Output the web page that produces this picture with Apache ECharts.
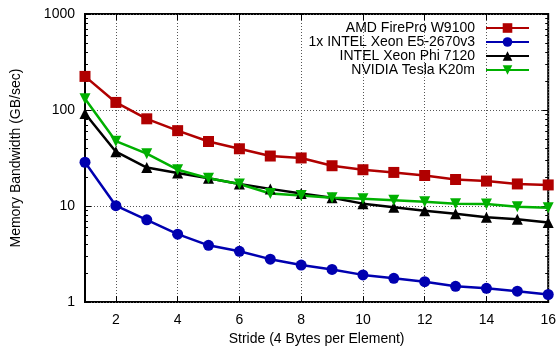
<!DOCTYPE html>
<html>
<head>
<meta charset="utf-8">
<script src="https://cdn.jsdelivr.net/npm/echarts@6/dist/echarts.min.js"></script>
<style>
  html, body { margin: 0; padding: 0; background: #fff; }
  #chart { width: 559px; height: 351px; }
</style>
</head>
<body>
<div id="chart"></div>
<script>
// stride 1..16 (4 bytes per element)
const strides = [1, 2, 3, 4, 5, 6, 7, 8, 9, 10, 11, 12, 13, 14, 15, 16];
const xTicks = [2, 4, 6, 8, 10, 12, 14, 16];
const yTicks = [1, 10, 100, 1000];

// memory bandwidth in GB/sec
const amdW9100 = [224, 120, 81, 61, 47, 39.5, 33.2, 31.7, 26.3, 23.9, 22.4, 20.8, 18.9, 18.2, 17.0, 16.6];
const xeonE5 = [28.6, 10.1, 7.2, 5.1, 3.9, 3.38, 2.8, 2.43, 2.19, 1.92, 1.77, 1.63, 1.46, 1.39, 1.3, 1.2];
const xeonPhi = [92, 36.8, 25.2, 22.1, 19.5, 17.0, 15.1, 13.5, 12.2, 10.6, 9.7, 8.95, 8.3, 7.64, 7.3, 6.75];
const teslaK20m = [131, 47.4, 35.1, 23.9, 19.5, 17.0, 13.5, 12.9, 12.2, 11.9, 11.5, 11.1, 10.6, 10.5, 9.84, 9.6];

const font = 'Liberation Sans, Arial, sans-serif';
const pairs = (ys) => strides.map((x, i) => [x, ys[i]]);

const chart = echarts.init(document.getElementById('chart'));

function mkSeries(name, data, color, symbol, rotate) {
    return {
        name: name,
        type: 'line',
        data: pairs(data),
        symbol: symbol,
        symbolSize: 11,
        symbolRotate: rotate || 0,
        lineStyle: { color: color, width: 2.5 },
        itemStyle: { color: color },
        emphasis: { disabled: true },
        animation: false
    };
}

const gridLine = { show: true, lineStyle: { color: '#555', width: 1, type: [1, 2] } };

const option = {
    animation: false,
    grid: {
        left: 85, right: 10, top: 14, bottom: 44,
        show: true, borderColor: '#000', borderWidth: 2, backgroundColor: 'transparent'
    },
    legend: {
        orient: 'vertical',
        right: 24,
        top: 16,
        align: 'right',
        itemWidth: 43,
        itemHeight: 12,
        itemGap: 0,
        textStyle: { fontFamily: font, fontSize: 14, color: '#000', padding: [0, 6, 0, 0] },
        data: ['AMD FirePro W9100', '1x INTEL Xeon E5-2670v3', 'INTEL Xeon Phi 7120', 'NVIDIA Tesla K20m']
    },
    xAxis: [{
        type: 'value',
        min: 1, max: 16,
        name: 'Stride (4 Bytes per Element)',
        nameLocation: 'middle',
        nameGap: 28,
        nameTextStyle: { fontFamily: font, fontSize: 14, color: '#000' },
        axisLine: { show: false },
        axisTick: { show: true, inside: true, length: 6, customValues: xTicks, lineStyle: { color: '#000', width: 1 } },
        axisLabel: { customValues: xTicks, fontFamily: font, fontSize: 14, color: '#000', margin: 11 },
        splitLine: gridLine
    }, {
        type: 'value',
        position: 'top',
        min: 1, max: 16,
        axisLine: { show: false },
        axisTick: { show: true, inside: true, length: 6, customValues: xTicks, lineStyle: { color: '#000', width: 1 } },
        axisLabel: { show: false, customValues: xTicks },
        splitLine: { show: false }
    }],
    yAxis: [{
        type: 'log',
        logBase: 10,
        min: 1, max: 1000,
        name: 'Memory Bandwidth (GB/sec)',
        nameLocation: 'middle',
        nameGap: 62,
        nameTextStyle: { fontFamily: font, fontSize: 14, color: '#000' },
        axisLine: { show: false },
        axisTick: { show: true, inside: true, length: 6, lineStyle: { color: '#000', width: 1 } },
        axisLabel: {
            customValues: yTicks,
            formatter: (v) => String(Math.round(v)),
            fontFamily: font, fontSize: 14, color: '#000', margin: 10
        },
        splitLine: gridLine
    }, {
        type: 'log',
        logBase: 10,
        position: 'right',
        min: 1, max: 1000,
        axisLine: { show: false },
        axisTick: { show: true, inside: true, length: 6, lineStyle: { color: '#000', width: 1 } },
        axisLabel: { show: false },
        splitLine: { show: false }
    }],
    series: [
        mkSeries('AMD FirePro W9100', amdW9100, '#b00000', 'rect'),
        mkSeries('1x INTEL Xeon E5-2670v3', xeonE5, '#0000b0', 'circle'),
        mkSeries('INTEL Xeon Phi 7120', xeonPhi, '#000000', 'triangle'),
        mkSeries('NVIDIA Tesla K20m', teslaK20m, '#00b000', 'triangle', 180)
    ]
};

chart.setOption(option);

// minor log ticks (2..9 per decade) on both sides, placed through the axis scale
const minor = [];
[1, 10, 100].forEach(d => { for (let k = 2; k <= 9; k++) minor.push(d * k); });
const left = chart.convertToPixel({ xAxisIndex: 0 }, 1);
const right = chart.convertToPixel({ xAxisIndex: 0 }, 16);
const ticks = [];
minor.forEach(v => {
    const y = Math.round(chart.convertToPixel({ yAxisIndex: 0 }, v)) + 0.5;
    ticks.push({ type: 'line', shape: { x1: left, y1: y, x2: left + 3, y2: y }, style: { stroke: '#000', lineWidth: 1 }, silent: true });
    ticks.push({ type: 'line', shape: { x1: right - 3, y1: y, x2: right, y2: y }, style: { stroke: '#000', lineWidth: 1 }, silent: true });
});
chart.setOption({ graphic: ticks });
</script>
</body>
</html>
